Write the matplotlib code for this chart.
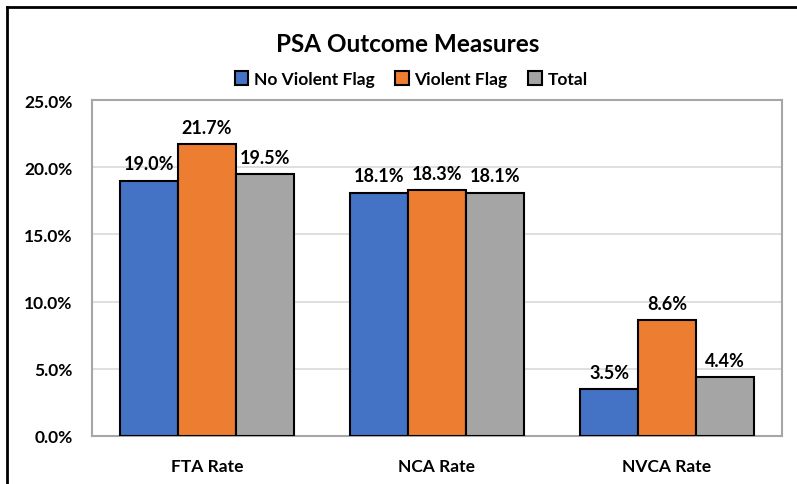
import numpy as np
import matplotlib.pyplot as plt
from matplotlib.lines import Line2D
from matplotlib.ticker import FuncFormatter

plt.rcParams['font.family'] = ['Lato', 'DejaVu Sans']
plt.rcParams['font.weight'] = 'bold'

categories = ["FTA Rate", "NCA Rate", "NVCA Rate"]
no_violent = [19.0, 18.1, 3.5]
violent = [21.7, 18.3, 8.6]
total = [19.5, 18.1, 4.4]
series_names = ["No Violent Flag", "Violent Flag", "Total"]
colors = ["#4472C4", "#ED7D31", "#A5A5A5"]

fig = plt.figure(figsize=(7.97, 4.85), dpi=100)
ax = fig.add_axes([92/797, 1 - 437/485, 690/797, 336/485])

x = np.arange(len(categories))
w = 0.252
for i, (vals, name, c) in enumerate(zip([no_violent, violent, total], series_names, colors)):
    bars = ax.bar(x + (i - 1) * w, vals, w, color=c, edgecolor="black",
                  linewidth=1.5, label=name, zorder=3)
    for b, v in zip(bars, vals):
        ax.annotate(f"{v:.1f}%", (b.get_x() + b.get_width() / 2, v),
                    xytext=(0, 6), textcoords="offset points",
                    ha="center", va="bottom", fontsize=13, fontweight="bold")

ax.set_xlim(-0.5, 2.5)
ax.set_ylim(0, 25)
ax.set_yticks(np.arange(0, 25.1, 5))
ax.yaxis.set_major_formatter(FuncFormatter(lambda v, p: f"{v:.1f}%"))
ax.set_xticks(x)
ax.set_xticklabels(categories)
ax.tick_params(axis="both", length=0, labelsize=12.5)
ax.tick_params(axis="y", pad=14)
ax.tick_params(axis="x", pad=16)
ax.grid(axis="y", color="#D9D9D9", linewidth=1.2, zorder=0)
for s in ax.spines.values():
    s.set_color("#A6A6A6")
    s.set_linewidth(1.5)

fig.text(408/797, 1 - 44/485, "PSA Outcome Measures", ha="center", va="center",
         fontsize=17.5, fontweight="bold")
ax.legend(loc="center", bbox_to_anchor=(411/797, 1 - 80/485),
          bbox_transform=fig.transFigure, ncol=3, frameon=False,
          fontsize=12.5, handlelength=0.8, handleheight=0.8,
          handletextpad=0.3, columnspacing=1.2)

# outer frame (left and top edges)
fig.add_artist(Line2D([7/797, 7/797], [0, 1 - 8/485], color="black", linewidth=2,
                      transform=fig.transFigure))
fig.add_artist(Line2D([7/797, 1], [1 - 8/485, 1 - 8/485], color="black", linewidth=2,
                      transform=fig.transFigure))

fig.savefig("out.png", dpi=100)
